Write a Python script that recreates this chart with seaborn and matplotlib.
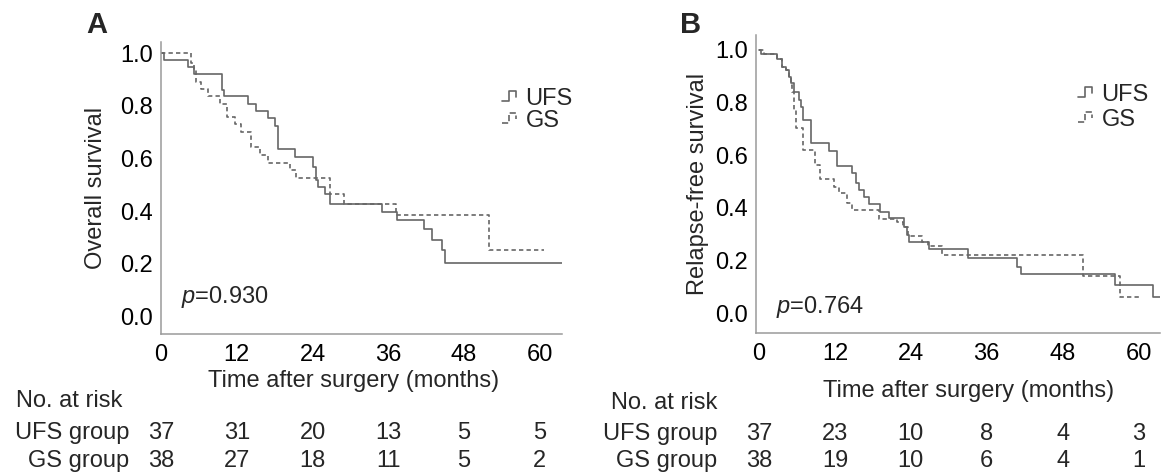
import numpy as np
import pandas as pd
import matplotlib
matplotlib.use('Agg')
import matplotlib.pyplot as plt
import matplotlib.transforms as mtransforms
from matplotlib.legend_handler import HandlerBase
from matplotlib.lines import Line2D
import seaborn as sns

# Panel A - overall survival (time in months, survival probability)
a_ufs_t = [0, 0.4, 4.25, 5.3, 9.6, 10.0, 13.8, 15.1, 17.0, 18.0, 18.5, 21.2, 24.1, 24.5,
           24.8, 26.0, 26.7, 35.0, 37.3, 41.6, 42.9, 44.5, 45.0, 63.8]
a_ufs_s = [1.0, 0.974, 0.948, 0.921, 0.86, 0.837, 0.809, 0.781, 0.755, 0.723, 0.638, 0.607,
           0.569, 0.518, 0.492, 0.467, 0.429, 0.398, 0.366, 0.331, 0.29, 0.252, 0.204, 0.204]
a_gs_t = [0, 4.8, 5.3, 5.6, 6.4, 7.4, 9.3, 10.4, 11.7, 12.7, 14.3, 15.7, 17.0, 20.4, 21.4,
          26.7, 29.0, 37.2, 51.9, 60.6]
a_gs_s = [1.0, 0.963, 0.942, 0.891, 0.866, 0.837, 0.809, 0.758, 0.731, 0.701, 0.644, 0.613,
          0.584, 0.556, 0.527, 0.464, 0.429, 0.385, 0.252, 0.252]

# Panel B - relapse-free survival
b_ufs_t = [0, 0.3, 2.9, 3.6, 4.2, 4.7, 5.0, 5.5, 6.3, 6.6, 6.9, 8.3, 11.0, 12.3, 14.7, 15.4,
           15.8, 16.6, 17.4, 19.2, 20.5, 22.9, 23.4, 23.7, 26.9, 33.1, 40.8, 41.4, 56.3, 62.3, 63.4]
b_ufs_s = [1.0, 0.984, 0.965, 0.937, 0.924, 0.898, 0.873, 0.841, 0.81, 0.784, 0.734, 0.645,
           0.617, 0.56, 0.531, 0.493, 0.468, 0.442, 0.413, 0.385, 0.36, 0.328, 0.297, 0.271,
           0.242, 0.208, 0.176, 0.148, 0.106, 0.062, 0.062]
b_gs_t = [0, 0.8, 2.9, 3.6, 4.2, 4.7, 5.0, 5.3, 5.5, 5.8, 7.0, 8.9, 9.65, 11.8, 12.6, 13.9,
          14.7, 18.9, 21.8, 22.8, 23.6, 25.7, 26.8, 28.9, 51.3, 57.1, 60.3]
b_gs_s = [1.0, 0.984, 0.965, 0.937, 0.924, 0.898, 0.867, 0.84, 0.77, 0.702, 0.62, 0.563,
          0.508, 0.48, 0.455, 0.42, 0.392, 0.356, 0.347, 0.328, 0.293, 0.271, 0.255, 0.22,
          0.141, 0.062, 0.062]

groups = ['UFS', 'GS']
x_ticks = [0, 12, 24, 36, 48, 60]
y_ticks = [0.0, 0.2, 0.4, 0.6, 0.8, 1.0]
risk_a_ufs = [37, 31, 20, 13, 5, 5]
risk_a_gs = [38, 27, 18, 11, 5, 2]
risk_b_ufs = [37, 23, 10, 8, 4, 3]
risk_b_gs = [38, 19, 10, 6, 4, 1]
p_a = '0.930'
p_b = '0.764'


def km_frame(ufs_t, ufs_s, gs_t, gs_s):
    return pd.concat([
        pd.DataFrame({'time': ufs_t, 'survival': ufs_s, 'group': 'UFS'}),
        pd.DataFrame({'time': gs_t, 'survival': gs_s, 'group': 'GS'}),
    ], ignore_index=True)


class StepHandle(HandlerBase):
    # little staircase symbol like the SPSS legend
    def create_artists(self, legend, orig_handle, xdescent, ydescent, width, height, fontsize, trans):
        xs = np.array([0.0, 0.45, 0.45, 0.85, 0.85]) * width - xdescent
        ys = np.array([0.15, 0.15, 0.95, 0.95, 0.45]) * height - ydescent
        ln = Line2D(xs, ys, color=orig_handle.get_color(), linestyle=orig_handle.get_linestyle(),
                    linewidth=orig_handle.get_linewidth())
        ln.set_transform(trans)
        return [ln]


sns.set_style('white')
plt.rcParams['font.family'] = ['Liberation Sans', 'DejaVu Sans']
plt.rcParams['mathtext.fontset'] = 'custom'
plt.rcParams['mathtext.rm'] = 'Liberation Sans'
plt.rcParams['mathtext.it'] = 'Liberation Sans:italic'

FS = 17
line_col = '#666666'
spine_col = '#9a9a9a'

fig = plt.figure(figsize=(11.63, 4.73), dpi=100)
W, H = 1163, 473

panels = [
    dict(rect=[161 / W, 1 - 334 / H, 401 / W, 292.3 / H], data=(a_ufs_t, a_ufs_s, a_gs_t, a_gs_s),
         xlim=(0, 63.5), ylim=(-0.067, 1.044), ylabel='Overall survival', ylab_x=96,
         letter='A', letter_xy=(97, 25), p=p_a, p_xy=(3.2, 0.075),
         xlab_xy=(0.48, -0.161), leg_xy=(502, 110), leg_sp=0.0,
         risk=(risk_a_ufs, risk_a_gs), risk_lab_x=129, risk_title=(15.5, 'left'),
         risk_y=(401, 433, 461)),
    dict(rect=[756 / W, 1 - 333.3 / H, 404 / W, 298.3 / H], data=(b_ufs_t, b_ufs_s, b_gs_t, b_gs_s),
         xlim=(-0.47, 63.4), ylim=(-0.077, 1.057), ylabel='Relapse-free survival', ylab_x=698,
         letter='B', letter_xy=(691, 25), p=p_b, p_xy=(2.7, 0.024),
         xlab_xy=(0.525, -0.193), leg_xy=(1078, 107.5), leg_sp=0.12,
         risk=(risk_b_ufs, risk_b_gs), risk_lab_x=717, risk_title=(717, 'right'),
         risk_y=(403, 434, 461)),
]

for pn in panels:
    ax = fig.add_axes(pn['rect'])
    df = km_frame(*pn['data'])
    sns.lineplot(data=df, x='time', y='survival', hue='group', style='group',
                 hue_order=groups, style_order=groups,
                 palette={'UFS': line_col, 'GS': line_col},
                 dashes={'UFS': '', 'GS': (2.6, 1.9)},
                 drawstyle='steps-post', estimator=None, sort=False,
                 linewidth=1.2, legend=False, ax=ax)

    ax.set_xlim(*pn['xlim'])
    ax.set_ylim(*pn['ylim'])
    ax.set_xticks(x_ticks)
    ax.set_yticks(y_ticks)
    ax.set_xticklabels([str(t) for t in x_ticks])
    ax.set_yticklabels([f'{v:.1f}' for v in y_ticks])
    ax.tick_params(axis='both', length=0, labelsize=FS, colors='black')
    ax.tick_params(axis='x', pad=7)
    ax.tick_params(axis='y', pad=6)
    for side in ['top', 'right']:
        ax.spines[side].set_visible(False)
    for side in ['left', 'bottom']:
        ax.spines[side].set_color(spine_col)
        ax.spines[side].set_linewidth(1.1)

    ax.set_ylabel('')
    ax.set_xlabel('Time after surgery (months)', fontsize=FS, va='center')
    ax.xaxis.set_label_coords(*pn['xlab_xy'])
    fig.text(pn['ylab_x'] / W, pn['rect'][1] + pn['rect'][3] / 2,
             pn['ylabel'], rotation=90, ha='center', va='center', fontsize=FS)

    fig.text(pn['letter_xy'][0] / W, 1 - pn['letter_xy'][1] / H, pn['letter'],
             fontsize=21, fontweight='bold', ha='center', va='center')

    ax.text(pn['p_xy'][0], pn['p_xy'][1], '$p$=' + pn['p'], fontsize=FS, ha='left', va='center')

    handles = ax.get_lines()[:2]
    ax.legend(handles, groups, handler_map={Line2D: StepHandle()},
              loc='center left', bbox_to_anchor=(pn['leg_xy'][0] / W, 1 - pn['leg_xy'][1] / H),
              bbox_transform=fig.transFigure, frameon=False, fontsize=FS,
              handlelength=0.7, handleheight=0.45, handletextpad=0.3,
              borderpad=0, borderaxespad=0, labelspacing=pn['leg_sp'])

    # number at risk table
    tr = mtransforms.blended_transform_factory(ax.transData, fig.transFigure)
    ty, uy, gy = [1 - v / H for v in pn['risk_y']]
    tx, tha = pn['risk_title']
    fig.text(tx / W, ty, 'No. at risk', fontsize=FS, ha=tha, va='center')
    fig.text(pn['risk_lab_x'] / W, uy, 'UFS group', fontsize=FS, ha='right', va='center')
    fig.text(pn['risk_lab_x'] / W, gy, 'GS group', fontsize=FS, ha='right', va='center')
    for t, nu, ng in zip(x_ticks, pn['risk'][0], pn['risk'][1]):
        ax.text(t, uy, str(nu), transform=tr, fontsize=FS, ha='center', va='center')
        ax.text(t, gy, str(ng), transform=tr, fontsize=FS, ha='center', va='center')

plt.savefig('out.png', dpi=100)
plt.close()
